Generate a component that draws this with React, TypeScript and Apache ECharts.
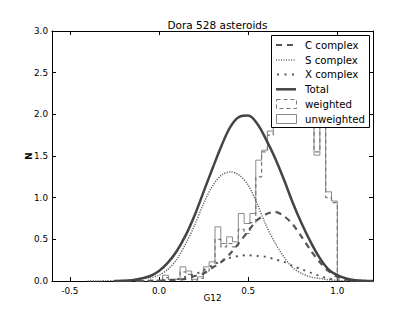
import React, { useEffect, useRef } from "react";
import * as echarts from "echarts";

// ---- data ----
const curveX = [-0.4, -0.35, -0.3, -0.25, -0.2, -0.15, -0.1, -0.05, 0.0, 0.05, 0.1, 0.15, 0.2, 0.25, 0.3, 0.35, 0.4, 0.45, 0.5, 0.55, 0.6, 0.65, 0.7, 0.75, 0.8, 0.85, 0.9, 0.95, 1.0, 1.05, 1.1, 1.15, 1.2];
const totalY = [null, null, null, 0.0, 0.003, 0.01, 0.03, 0.06, 0.12, 0.22, 0.36, 0.55, 0.79, 1.07, 1.35, 1.62, 1.85, 1.97, 1.985, 1.89, 1.7, 1.48, 1.22, 0.94, 0.69, 0.47, 0.28, 0.14, 0.07, 0.03, 0.01, 0.003, 0.0];
const sComplexY = [0.0, 0.001, 0.002, 0.004, 0.008, 0.015, 0.025, 0.04, 0.07, 0.14, 0.26, 0.45, 0.67, 0.93, 1.14, 1.27, 1.31, 1.27, 1.15, 0.93, 0.67, 0.46, 0.29, 0.16, 0.09, 0.05, 0.03, 0.015, 0.007, 0.003, 0.0, null, null];
const cComplexY = [null, null, null, 0.0, 0.0, 0.0, 0.002, 0.003, 0.005, 0.01, 0.015, 0.025, 0.06, 0.09, 0.16, 0.23, 0.33, 0.46, 0.6, 0.73, 0.8, 0.83, 0.78, 0.68, 0.53, 0.37, 0.23, 0.12, 0.05, 0.02, 0.005, 0.0, null];
const xComplexY = [null, null, null, 0.0, 0.0, 0.0, 0.001, 0.003, 0.005, 0.01, 0.02, 0.05, 0.08, 0.13, 0.19, 0.24, 0.28, 0.3, 0.31, 0.3, 0.29, 0.26, 0.23, 0.18, 0.14, 0.1, 0.06, 0.03, 0.015, 0.005, 0.0, null, null];

const binStart = 0.02;
const binEnd = 1.0;
const unweightedN = [0.07, 0.02, 0.02, 0.17, 0.12, 0.02, 0.05, 0.17, 0.23, 0.65, 0.45, 0.53, 0.47, 0.81, 0.69, 0.81, 1.45, 1.57, 1.8, 2.3, 2.5, 2.7, 2.8, 2.6, 2.4, 2.2, 1.51, 2.5, 1.07, 0.96];
const weightedN = [0.04, 0.01, 0.02, 0.11, 0.08, 0.01, 0.03, 0.12, 0.17, 0.5, 0.41, 0.45, 0.41, 0.62, 0.57, 0.7, 1.25, 1.55, 1.75, 2.2, 2.4, 2.6, 2.7, 2.5, 2.3, 2.1, 1.55, 2.4, 1.0, 0.94];

const xTicks = [-0.5, 0.0, 0.5, 1.0];
const titleText = "Dora 528 asteroids";
const legendLabels = ["C complex", "S complex", "X complex", "Total", "weighted", "unweighted"];

const FONT = "DejaVu Sans";

function curve(ys: (number | null)[]) {
  const out: [number, number][] = [];
  curveX.forEach((x, i) => {
    const y = ys[i];
    if (y !== null && y !== undefined) out.push([x, y]);
  });
  return out;
}

function stepHist(h: number[]) {
  const w = (binEnd - binStart) / h.length;
  const pts: [number, number][] = [[binStart, 0]];
  h.forEach((v, i) => {
    pts.push([binStart + i * w, v]);
    pts.push([binStart + (i + 1) * w, v]);
  });
  pts.push([binEnd, 0]);
  return pts;
}

export default function App() {
  const ref = useRef<HTMLDivElement>(null);
  useEffect(() => {
    document.body.style.margin = "0";
    if (!ref.current) return;
    const chart = echarts.init(ref.current, undefined, { renderer: "svg" });

    const lx = 271, ly = 35, lw = 98, lh = 92;
    const rows = [45, 60, 74.5, 89.3, 104, 119];
    const sx1 = 276, sx2 = 296, tx = 305;
    const Z = 100;
    const legendGraphics: any[] = [
      { type: "rect", z: Z, shape: { x: lx + 0.5, y: ly + 0.5, width: lw, height: lh }, style: { fill: "#fff", stroke: "#000", lineWidth: 1 } },
      { type: "line", z: Z + 1, shape: { x1: sx1, y1: rows[0], x2: sx2, y2: rows[0] }, style: { stroke: "#555", lineWidth: 2, lineDash: [6, 5] } },
      { type: "line", z: Z + 1, shape: { x1: sx1, y1: rows[1], x2: sx2, y2: rows[1] }, style: { stroke: "#666", lineWidth: 1.3, lineDash: [1, 1.5] } },
      { type: "line", z: Z + 1, shape: { x1: sx1 + 1, y1: rows[2], x2: sx2, y2: rows[2] }, style: { stroke: "#555", lineWidth: 2, lineDash: [2, 5.5] } },
      { type: "line", z: Z + 1, shape: { x1: sx1, y1: rows[3], x2: sx2, y2: rows[3] }, style: { stroke: "#444", lineWidth: 2.5 } },
      { type: "rect", z: Z + 1, shape: { x: sx1 + 0.5, y: rows[4] - 4.5, width: 20, height: 9 }, style: { fill: "#fff", stroke: "#777", lineWidth: 1, lineDash: [4, 3] } },
      { type: "rect", z: Z + 1, shape: { x: sx1 + 0.5, y: rows[5] - 4.5, width: 20, height: 9 }, style: { fill: "#fff", stroke: "#888", lineWidth: 1 } },
    ];
    legendLabels.forEach((t, i) => {
      legendGraphics.push({
        type: "text", z: Z + 1, x: tx, y: rows[i],
        style: { text: t, fill: "#000", font: `10.2px "${FONT}"`, textVerticalAlign: "middle", textAlign: "left" },
      });
    });

    const axisCommon = {
      type: "value",
      splitLine: { show: false },
      axisLine: { show: true, onZero: false, lineStyle: { color: "#000", width: 1 } },
    };

    chart.setOption({
      animation: false,
      backgroundColor: "#fff",
      title: {
        text: titleText, left: 212.5, top: 14, textAlign: "center",
        textStyle: { fontFamily: FONT, fontSize: 10.5, fontWeight: "normal", color: "#000" },
      },
      grid: { left: 52, right: 42, top: 31, bottom: 31, show: false },
      xAxis: [
        {
          ...axisCommon, position: "bottom", min: -0.6, max: 1.2,
          axisTick: { show: true, inside: true, length: 4, customValues: xTicks, lineStyle: { color: "#000" } },
          axisLabel: { show: true, customValues: xTicks, formatter: (v: number) => v.toFixed(1), fontFamily: FONT, fontSize: 8.8, color: "#000", margin: 5 },
          name: "G12", nameLocation: "middle", nameGap: 12, nameMoveOverlap: false,
          nameTextStyle: { fontFamily: FONT, fontSize: 8.8, color: "#000" },
        },
        {
          ...axisCommon, position: "top", min: -0.6, max: 1.2,
          axisTick: { show: true, inside: true, length: 4, customValues: xTicks, lineStyle: { color: "#000" } },
          axisLabel: { show: false },
        },
      ],
      yAxis: [
        {
          ...axisCommon, position: "left", min: 0, max: 3, interval: 0.5,
          axisTick: { show: true, inside: true, length: 4, lineStyle: { color: "#000" } },
          axisLabel: { formatter: (v: number) => v.toFixed(1), fontFamily: FONT, fontSize: 8.8, color: "#000", margin: 4 },
          name: "N", nameLocation: "middle", nameGap: 19, nameRotate: 90, nameMoveOverlap: false,
          nameTextStyle: { fontFamily: FONT, fontSize: 8.8, color: "#000", fontWeight: "bold" },
        },
        {
          ...axisCommon, position: "right", min: 0, max: 3, interval: 0.5,
          axisTick: { show: true, inside: true, length: 4, lineStyle: { color: "#000" } },
          axisLabel: { show: false },
        },
      ],
      series: [
        { type: "line", name: "unweighted", data: stepHist(unweightedN), showSymbol: false, symbol: "none", lineStyle: { color: "#8a8a8a", width: 1 }, z: 2 },
        { type: "line", name: "weighted", data: stepHist(weightedN), showSymbol: false, symbol: "none", lineStyle: { color: "#777", width: 1.2, type: [4, 3] }, z: 3 },
        { type: "line", name: "S complex", data: curve(sComplexY), smooth: 0.3, showSymbol: false, symbol: "none", lineStyle: { color: "#666", width: 1.5, type: [1.2, 1.3] }, z: 4 },
        { type: "line", name: "X complex", data: curve(xComplexY), smooth: 0.3, showSymbol: false, symbol: "none", lineStyle: { color: "#555", width: 2, type: [2, 5] }, z: 4 },
        { type: "line", name: "C complex", data: curve(cComplexY), smooth: 0.3, showSymbol: false, symbol: "none", lineStyle: { color: "#555", width: 2.2, type: [6, 5] }, z: 5 },
        { type: "line", name: "Total", data: curve(totalY), smooth: 0.35, showSymbol: false, symbol: "none", lineStyle: { color: "#444", width: 2.5 }, z: 6 },
      ],
      graphic: legendGraphics,
    });
    return () => chart.dispose();
  }, []);
  return <div ref={ref} style={{ width: 415, height: 312 }} />;
}
